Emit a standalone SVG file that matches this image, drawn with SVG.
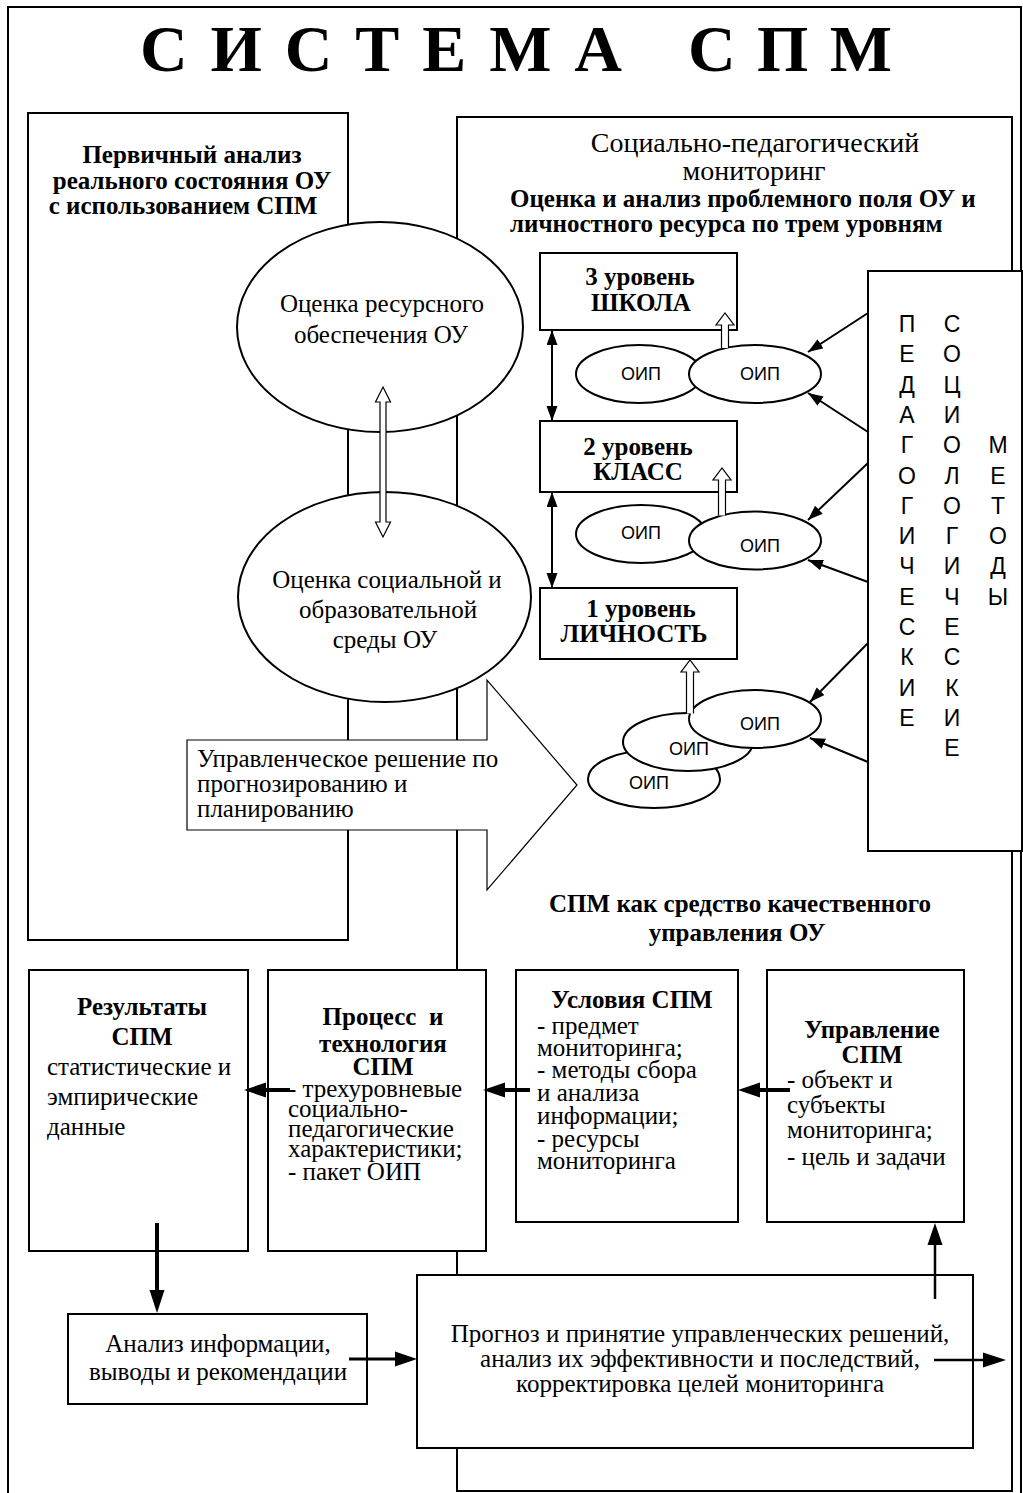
<svg xmlns="http://www.w3.org/2000/svg" width="1023" height="1493" viewBox="0 0 1023 1493">
<style>
.box{fill:#fff;stroke:#000;stroke-width:2}
.frame{fill:none;stroke:#000;stroke-width:2}
.thin{fill:#fff;stroke:#000;stroke-width:1.2}
.ln{fill:none;stroke:#000;stroke-width:2}
.blk{fill:#000;stroke:none}
.s{font-family:"Liberation Serif","Times New Roman",serif;font-size:25px;fill:#000}
.b{font-weight:bold}
.sans{font-family:"Liberation Sans",Arial,sans-serif;fill:#000}
.oip{font-size:18px}
.meth{font-size:23px}
.c{text-anchor:middle}
</style>
<defs>
<marker id="ah" markerUnits="userSpaceOnUse" markerWidth="16" markerHeight="12" refX="15" refY="5.5" orient="auto-start-reverse">
<path d="M0,0 L15,5.5 L0,11 Z" fill="#000"/>
</marker>
</defs>
<rect id="frame" class="frame" x="8" y="7" width="1013" height="1490"/>
<g id="title">
<text class="s b" x="140" y="71" style="font-size:66px" textLength="482" lengthAdjust="spacing">С И С Т Е М А</text>
<text class="s b" x="688" y="71" style="font-size:66px" textLength="204" lengthAdjust="spacing">С П М</text>
</g>
<g id="primary-analysis">
<rect class="box" x="28" y="113" width="320" height="827"/>
<text class="s b c" x="192" y="163">Первичный анализ</text>
<text class="s b c" x="192" y="189">реального состояния ОУ</text>
<text class="s b c" x="183" y="214">с использованием СПМ</text>
</g>
<g id="monitoring">
<rect class="box" x="457" y="117" width="555" height="1374"/>
<text class="s c" x="755" y="152" style="font-size:28px">Социально-педагогический</text>
<text class="s c" x="754" y="180" style="font-size:28px">мониторинг</text>
<text class="s b" x="510" y="207">Оценка и анализ проблемного поля ОУ и</text>
<text class="s b" x="510" y="232">личностного ресурса по трем уровням</text>
<text class="s b c" x="740" y="912">СПМ как средство качественного</text>
<text class="s b c" x="737" y="941">управления ОУ</text>
</g>
<g id="methods">
<rect class="box" x="868" y="271" width="154" height="580"/>
<text class="sans meth c"><tspan x="907" y="332">П</tspan><tspan x="907" dy="30.3">Е</tspan><tspan x="907" dy="30.3">Д</tspan><tspan x="907" dy="30.3">А</tspan><tspan x="907" dy="30.3">Г</tspan><tspan x="907" dy="30.3">О</tspan><tspan x="907" dy="30.3">Г</tspan><tspan x="907" dy="30.3">И</tspan><tspan x="907" dy="30.3">Ч</tspan><tspan x="907" dy="30.3">Е</tspan><tspan x="907" dy="30.3">С</tspan><tspan x="907" dy="30.3">К</tspan><tspan x="907" dy="30.3">И</tspan><tspan x="907" dy="30.3">Е</tspan></text>
<text class="sans meth c"><tspan x="952" y="332">С</tspan><tspan x="952" dy="30.3">О</tspan><tspan x="952" dy="30.3">Ц</tspan><tspan x="952" dy="30.3">И</tspan><tspan x="952" dy="30.3">О</tspan><tspan x="952" dy="30.3">Л</tspan><tspan x="952" dy="30.3">О</tspan><tspan x="952" dy="30.3">Г</tspan><tspan x="952" dy="30.3">И</tspan><tspan x="952" dy="30.3">Ч</tspan><tspan x="952" dy="30.3">Е</tspan><tspan x="952" dy="30.3">С</tspan><tspan x="952" dy="30.3">К</tspan><tspan x="952" dy="30.3">И</tspan><tspan x="952" dy="30.3">Е</tspan></text>
<text class="sans meth c"><tspan x="998" y="453.2">М</tspan><tspan x="998" dy="30.3">Е</tspan><tspan x="998" dy="30.3">Т</tspan><tspan x="998" dy="30.3">О</tspan><tspan x="998" dy="30.3">Д</tspan><tspan x="998" dy="30.3">Ы</tspan></text>
</g>
<g id="level3">
<rect class="box" x="540" y="253" width="197" height="77"/>
<text class="s b c" x="640" y="285">3 уровень</text>
<text class="s b c" x="641" y="311">ШКОЛА</text>
</g>
<g id="level2">
<rect class="box" x="540" y="421" width="197" height="71"/>
<text class="s b c" x="638" y="455">2 уровень</text>
<text class="s b c" x="638" y="480">КЛАСС</text>
</g>
<g id="level1">
<rect class="box" x="540" y="588" width="197" height="71"/>
<text class="s b c" x="641" y="617">1 уровень</text>
<text class="s b c" x="634" y="642">ЛИЧНОСТЬ</text>
</g>
<g id="oip3a"><ellipse class="box" cx="639" cy="374" rx="63" ry="29"/><text class="sans oip c" x="641" y="380">ОИП</text></g>
<g id="oip3b"><ellipse class="box" cx="755" cy="374" rx="66" ry="29"/><text class="sans oip c" x="760" y="380">ОИП</text></g>
<g id="oip2a"><ellipse class="box" cx="641" cy="534" rx="65" ry="29"/><text class="sans oip c" x="641" y="539">ОИП</text></g>
<g id="oip2b"><ellipse class="box" cx="755" cy="540.5" rx="66" ry="29"/><text class="sans oip c" x="760" y="552">ОИП</text></g>
<g id="oip1c"><ellipse class="box" cx="654" cy="779" rx="66" ry="29"/><text class="sans oip c" x="649" y="789">ОИП</text></g>
<g id="oip1b"><ellipse class="box" cx="688" cy="742" rx="65" ry="29"/><text class="sans oip c" x="689" y="755">ОИП</text></g>
<g id="oip1a"><ellipse class="box" cx="755" cy="719" rx="66" ry="29"/><text class="sans oip c" x="760" y="730">ОИП</text></g>
<g id="resources">
<ellipse class="box" cx="380" cy="327" rx="143" ry="105"/>
<text class="s c" x="382" y="312">Оценка ресурсного</text>
<text class="s c" x="381" y="343">обеспечения ОУ</text>
</g>
<g id="environment">
<ellipse class="box" cx="384.5" cy="597" rx="146.5" ry="105"/>
<text class="s c" x="387" y="588">Оценка социальной и</text>
<text class="s c" x="388" y="618">образовательной</text>
<text class="s c" x="385" y="648">среды ОУ</text>
</g>
<g id="decision">
<path class="thin" d="M187,740 H487 V680 L577,785 L487,890 V830 H187 Z"/>
<text class="s" x="197" y="767">Управленческое решение по</text>
<text class="s" x="197" y="792">прогнозированию и</text>
<text class="s" x="197" y="817">планированию</text>
</g>
<g id="results">
<rect class="box" x="29" y="970" width="219" height="281"/>
<text class="s b c" x="142" y="1015">Результаты</text>
<text class="s b c" x="142" y="1045">СПМ</text>
<text class="s" x="47" y="1075">статистические и</text>
<text class="s" x="47" y="1105">эмпирические</text>
<text class="s" x="47" y="1135">данные</text>
</g>
<g id="process">
<rect class="box" x="268" y="970" width="218" height="281"/>
<text class="s b c" x="383" y="1025" xml:space="preserve">Процесс  и</text>
<text class="s b c" x="383" y="1052">технология</text>
<text class="s b c" x="383" y="1075">СПМ</text>
<text class="s" x="288" y="1097">- трехуровневые</text>
<text class="s" x="288" y="1117">социально-</text>
<text class="s" x="288" y="1137">педагогические</text>
<text class="s" x="288" y="1157">характеристики;</text>
<text class="s" x="288" y="1180">- пакет ОИП</text>
</g>
<g id="conditions">
<rect class="box" x="516" y="970" width="222" height="252"/>
<text class="s b c" x="632" y="1008">Условия СПМ</text>
<text class="s" x="537" y="1034">- предмет</text>
<text class="s" x="537" y="1056">мониторинга;</text>
<text class="s" x="537" y="1078">- методы сбора</text>
<text class="s" x="537" y="1101">и анализа</text>
<text class="s" x="537" y="1124">информации;</text>
<text class="s" x="537" y="1147">- ресурсы</text>
<text class="s" x="537" y="1169">мониторинга</text>
</g>
<g id="management">
<rect class="box" x="767" y="970" width="197" height="252"/>
<text class="s b c" x="872" y="1038">Управление</text>
<text class="s b c" x="872" y="1063">СПМ</text>
<text class="s" x="787" y="1088">- объект и</text>
<text class="s" x="787" y="1113">субъекты</text>
<text class="s" x="787" y="1138">мониторинга;</text>
<text class="s" x="787" y="1165">- цель и задачи</text>
</g>
<g id="analysis">
<rect class="box" x="68" y="1314" width="299" height="90"/>
<text class="s c" x="218" y="1352">Анализ информации,</text>
<text class="s c" x="218" y="1380">выводы и рекомендации</text>
</g>
<g id="forecast">
<rect class="box" x="417" y="1275" width="556" height="173"/>
<text class="s c" x="700" y="1342">Прогноз и принятие управленческих решений,</text>
<text class="s c" x="700" y="1367">анализ их эффективности и последствий,</text>
<text class="s c" x="700" y="1392">корректировка целей мониторинга</text>
</g>
<g id="connectors">
<path class="thin" d="M380,402 H375.5 L383,387 L390.5,402 H386 V522 H390.5 L383,537 L375.5,522 H380 Z"/>
<path class="thin" d="M721.5,348 V325 H716 L725,313 L734,325 H728.5 V348"/>
<path class="thin" d="M718.5,515.5 V480 H713 L722,468 L731,480 H725.5 V515.5"/>
<path class="thin" d="M686.5,713.5 V672 H681 L690,660 L699,672 H693.5 V713.5"/>
<line class="ln" x1="552" y1="330" x2="552" y2="421" marker-start="url(#ah)" marker-end="url(#ah)"/>
<line class="ln" x1="552" y1="492" x2="552" y2="588" marker-start="url(#ah)" marker-end="url(#ah)"/>
<line class="ln" x1="868" y1="313" x2="808" y2="352" marker-end="url(#ah)"/>
<line class="ln" x1="868" y1="432" x2="808" y2="393" marker-end="url(#ah)"/>
<line class="ln" x1="868" y1="463" x2="808" y2="520" marker-end="url(#ah)"/>
<line class="ln" x1="868" y1="582" x2="808" y2="560" marker-end="url(#ah)"/>
<line class="ln" x1="868" y1="643" x2="810" y2="702" marker-end="url(#ah)"/>
<line class="ln" x1="868" y1="762" x2="810" y2="738" marker-end="url(#ah)"/>
<line x1="790" y1="1090" x2="758" y2="1090" stroke="#000" stroke-width="4"/>
<polygon class="blk" points="738,1090 760,1082.5 760,1097.5"/>
<line x1="530" y1="1090" x2="503" y2="1090" stroke="#000" stroke-width="4"/>
<polygon class="blk" points="483,1090 505,1082.5 505,1097.5"/>
<line x1="290" y1="1090" x2="264" y2="1090" stroke="#000" stroke-width="4"/>
<polygon class="blk" points="244,1090 266,1082.5 266,1097.5"/>
<line x1="157" y1="1223" x2="157" y2="1292" stroke="#000" stroke-width="4"/>
<polygon class="blk" points="157,1313 149.5,1290 164.5,1290"/>
<line x1="349" y1="1359" x2="397" y2="1359" stroke="#000" stroke-width="3"/>
<polygon class="blk" points="417,1359 395,1351.5 395,1366.5"/>
<line x1="934" y1="1360" x2="985" y2="1360" stroke="#000" stroke-width="2.5"/>
<polygon class="blk" points="1006,1360 983,1352.5 983,1367.5"/>
<line x1="935" y1="1299" x2="935" y2="1243" stroke="#000" stroke-width="2.5"/>
<polygon class="blk" points="935,1223 927.5,1245 942.5,1245"/>
</g>
</svg>
